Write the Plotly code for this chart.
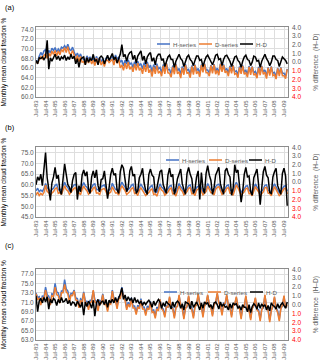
import plotly.graph_objects as go
import pandas as pd

# ---------------- data (bi-monthly readings, Jul-83 .. Nov-09) ----------------
TICK_LABELS = ["Jul-83", "Jul-84", "Jul-85", "Jul-86", "Jul-87", "Jul-88", "Jul-89",
               "Jul-90", "Jul-91", "Jul-92", "Jul-93", "Jul-94", "Jul-95", "Jul-96",
               "Jul-97", "Jul-98", "Jul-99", "Jul-00", "Jul-01", "Jul-02", "Jul-03",
               "Jul-04", "Jul-05", "Jul-06", "Jul-07", "Jul-08", "Jul-09"]
SERIES_NAMES = ["H-series", "D-series", "H-D"]
PANEL_LABELS = ["(a)", "(b)", "(c)"]

H_A = [67.6, 67.2, 68.4, 69.2, 68.6, 69.5, 69.8, 68.9, 69.6, 69.1, 70.1, 69.6,
       70.2, 69.3, 69.9, 69.4, 70.3, 70.1, 70.6, 70.0, 70.9, 69.8, 69.6, 70.3,
       69.3, 68.4, 69.1, 68.2, 68.9, 68.0, 67.8, 67.4, 68.5, 67.8, 68.3, 67.5,
       68.1, 67.2, 68.4, 67.5, 68.1, 67.3, 67.9, 67.0, 68.0, 68.3, 67.5, 68.1,
       68.5, 67.4, 68.7, 67.8, 68.3, 67.2, 67.6, 66.4, 67.6, 66.8, 67.7, 66.7,
       67.1, 66.1, 67.3, 66.4, 67.4, 66.5, 66.9, 65.8, 67.1, 66.2, 67.3, 66.0,
       66.6, 65.2, 66.7, 65.7, 66.9, 65.8, 66.1, 65.0, 66.7, 65.5, 67.0, 65.6,
       65.7, 64.8, 66.5, 65.4, 66.9, 65.4, 65.9, 64.6, 66.3, 65.3, 66.8, 65.5,
       65.7, 64.7, 66.5, 65.2, 66.7, 65.4, 65.9, 64.8, 66.7, 65.7, 66.9, 65.6,
       65.6, 64.9, 66.6, 65.5, 66.8, 65.3, 66.0, 65.0, 66.9, 65.7, 66.7, 65.5,
       65.9, 64.9, 66.4, 65.4, 66.6, 65.2, 65.4, 64.6, 66.3, 65.3, 66.5, 65.2,
       65.5, 64.7, 66.4, 65.1, 66.3, 65.0, 65.3, 64.4, 66.2, 65.0, 66.4, 65.2,
       65.6, 64.3, 66.1, 64.9, 66.3, 64.9, 65.1, 64.2, 66.0, 64.8, 66.1, 64.9,
       64.9, 64.3, 65.8]
D_A = [67.4, 66.9, 67.8, 68.3, 67.9, 68.6, 68.9, 68.0, 69.0, 68.4, 69.5, 68.8,
       69.6, 68.5, 69.5, 68.7, 69.8, 69.4, 70.2, 69.2, 70.4, 69.0, 68.8, 69.6,
       68.7, 67.5, 68.6, 67.3, 68.4, 67.2, 67.3, 66.7, 68.1, 67.0, 68.0, 66.8,
       67.6, 66.5, 68.0, 66.8, 67.8, 66.6, 67.4, 66.3, 67.6, 67.6, 67.1, 67.5,
       67.8, 66.6, 68.2, 67.0, 67.8, 66.0, 66.6, 65.5, 67.0, 65.8, 67.2, 65.7,
       66.3, 65.2, 66.8, 65.5, 67.0, 65.5, 66.0, 64.8, 66.6, 65.2, 66.9, 65.0,
       65.7, 64.2, 66.2, 64.8, 66.5, 64.9, 65.3, 64.3, 66.4, 64.8, 66.9, 65.0,
       64.9, 64.1, 66.2, 64.7, 66.7, 64.8, 65.2, 63.9, 66.0, 64.6, 66.6, 64.9,
       65.0, 64.0, 66.3, 64.6, 66.6, 64.8, 65.3, 64.2, 66.6, 65.1, 66.8, 65.0,
       65.0, 64.3, 66.5, 64.9, 66.7, 64.7, 65.5, 64.5, 66.8, 65.2, 66.6, 65.0,
       65.4, 64.3, 66.2, 64.9, 66.5, 64.7, 64.9, 64.0, 66.1, 64.8, 66.4, 64.7,
       65.0, 64.1, 66.2, 64.6, 66.2, 64.5, 64.8, 63.9, 66.0, 64.5, 66.3, 64.7,
       65.1, 63.8, 66.0, 64.4, 66.2, 64.4, 64.6, 63.7, 65.9, 64.3, 66.0, 64.4,
       64.4, 63.8, 65.7]
HD_A = [0.2, -0.2, 0.5, 0.4, 0.6, 0.3, 0.6, 2.5, -0.8, 0.5, 0.1, 0.6,
        0.9, 0.3, 0.7, 0.2, 0.6, 0.4, 0.8, 0.2, 0.6, 0.3, 0.9, 0.4,
        0.7, -0.2, 0.4, -0.6, 0.3, 0.5, 0.6, -0.3, 0.5, 0.0, 0.4, 0.2,
        0.9, 0.1, 0.3, -0.3, 0.5, 0.7, 0.5, -0.2, 0.4, 0.8, 0.2, 0.7,
        1.0, 0.3, 0.6, -0.1, 0.5, 0.9, 2.0, 0.6, 0.9, 0.1, 0.8, 1.1,
        1.2, 0.3, 0.8, -0.1, 0.7, 1.0, 1.3, 0.2, 0.7, -0.2, 0.6, 0.9,
        1.1, 0.1, 0.5, -0.3, 0.6, 0.9, 0.9, 0.2, 0.4, -0.5, 0.2, 0.6,
        0.8, 0.3, 0.3, -0.6, 0.1, 0.5, 0.9, 0.4, 0.2, -0.5, 0.0, 0.6,
        0.8, 0.3, 0.1, -0.4, 0.2, 0.7, 0.7, 0.2, 0.3, -0.5, 0.1, 0.6,
        0.8, 0.4, 0.2, -0.3, 0.2, 0.8, 0.9, 0.3, 0.4, -0.4, 0.3, 0.7,
        0.8, 0.5, 0.1, -0.5, 0.2, 0.6, 0.7, 0.2, 0.0, -0.6, 0.1, 0.6,
        0.8, 0.3, 0.2, -0.4, 0.0, 0.7, 0.6, 0.1, 0.2, -0.6, 0.1, 0.5,
        0.9, 0.4, 0.1, -0.4, 0.0, 0.7, 0.7, 0.3, 0.2, -0.5, 0.1, 0.6,
        0.4, 0.2, -0.2]

H_B = [57.2, 58.4, 56.8, 57.6, 56.9, 58.2, 60.6, 58.6, 57.9, 56.7, 57.8, 58.4,
       59.8, 60.2, 57.6, 58.0, 57.1, 59.4, 61.2, 59.4, 58.8, 57.2, 58.3, 59.0,
       60.0, 60.2, 57.5, 57.9, 57.0, 59.5, 61.0, 59.6, 58.9, 57.2, 58.0, 58.7,
       60.1, 60.5, 57.7, 57.9, 56.9, 59.3, 59.6, 59.9, 58.4, 56.8, 57.6, 58.2,
       60.7, 59.5, 57.8, 57.9, 56.8, 59.4, 61.2, 60.0, 58.9, 57.1, 57.8, 58.5,
       59.8, 60.3, 57.5, 57.7, 56.6, 59.1, 60.2, 59.1, 58.3, 56.6, 57.3, 58.0,
       59.2, 59.7, 57.1, 57.4, 56.3, 58.7, 60.4, 59.0, 58.3, 56.6, 57.3, 58.0,
       59.4, 59.7, 57.2, 57.3, 56.2, 58.8, 60.6, 59.1, 58.3, 56.6, 57.3, 58.1,
       59.6, 59.9, 57.1, 57.3, 56.3, 58.9, 59.2, 60.2, 58.3, 56.6, 57.4, 58.2,
       60.6, 59.2, 57.6, 57.6, 56.5, 59.2, 60.0, 60.3, 58.6, 56.8, 57.5, 58.2,
       59.6, 59.9, 57.4, 57.5, 56.4, 59.6, 61.2, 59.8, 58.4, 56.6, 57.3, 58.0,
       59.4, 59.6, 57.2, 57.3, 56.2, 58.6, 60.4, 59.0, 58.1, 56.3, 57.0, 58.0,
       59.8, 60.0, 57.4, 57.2, 56.2, 59.0, 60.4, 59.0, 58.0, 56.3, 56.9, 58.0,
       59.4, 59.6, 57.0]
D_B = [55.2, 56.6, 55.0, 56.0, 55.3, 56.4, 59.8, 56.9, 56.3, 55.1, 56.2, 56.8,
       58.2, 58.6, 56.0, 56.4, 55.5, 57.8, 59.6, 57.8, 57.2, 55.6, 56.7, 57.4,
       58.4, 58.6, 55.9, 56.3, 55.4, 57.9, 59.4, 58.0, 57.3, 55.6, 56.4, 57.1,
       58.5, 58.9, 56.1, 56.3, 55.3, 57.7, 58.0, 58.3, 56.8, 55.2, 56.0, 56.6,
       59.1, 57.9, 56.2, 56.3, 55.2, 57.8, 59.6, 58.4, 57.3, 55.5, 56.2, 56.9,
       58.2, 58.7, 55.9, 56.1, 55.0, 57.5, 58.6, 57.5, 56.7, 55.0, 55.7, 56.4,
       57.6, 58.1, 55.5, 55.8, 54.7, 57.1, 59.0, 57.6, 56.9, 55.2, 55.9, 56.6,
       58.0, 58.5, 55.8, 55.9, 54.8, 57.4, 59.4, 57.8, 57.0, 55.3, 56.0, 56.8,
       58.4, 58.7, 55.8, 56.0, 55.0, 57.6, 58.0, 59.0, 57.0, 55.3, 56.1, 56.9,
       59.4, 58.0, 56.3, 56.3, 55.2, 57.9, 58.8, 59.1, 57.3, 55.5, 56.2, 56.9,
       58.4, 58.7, 56.1, 56.2, 55.1, 58.3, 60.0, 58.6, 57.1, 55.3, 56.0, 56.7,
       58.2, 58.4, 55.9, 56.0, 54.9, 57.3, 59.2, 57.8, 56.8, 55.0, 55.7, 56.7,
       58.6, 58.8, 56.1, 55.9, 54.9, 57.7, 59.2, 57.8, 56.7, 55.0, 55.6, 56.7,
       58.2, 58.4, 55.7]
HD_B = [-0.3, 0.6, 0.2, 0.9, -0.4, 1.4, 3.4, 0.5, -1.2, -2.1, -0.1, 0.6,
        1.7, 0.4, 0.8, -1.0, -1.4, 0.5, 2.1, 0.9, -0.3, -0.6, -1.2, 0.2,
        0.9, 1.1, -2.0, -0.4, -1.1, 0.8, 1.4, 0.7, 1.2, -0.8, -1.3, 0.6,
        1.3, 0.5, 1.4, -0.4, -1.1, 0.3, 0.4, 1.3, -0.2, -1.9, -0.6, 0.9,
        1.6, 0.8, 1.0, -0.9, -1.3, 1.2, 2.0, 1.6, 0.3, -1.1, -0.6, 1.3,
        1.8, 0.7, 0.9, -1.3, -1.0, 0.5, 0.9, 1.6, -0.1, -1.0, -1.4, 0.9,
        1.5, 0.8, 0.6, -1.2, -0.7, 0.3, 1.2, 1.4, -0.3, -0.8, -1.3, 0.8,
        1.6, 0.6, 0.9, -1.4, -0.7, 0.4, 1.1, 1.5, -0.2, -0.9, -1.4, 1.0,
        1.7, 0.9, 0.4, -1.3, -0.8, 0.6, 1.3, -2.0, 1.1, -0.7, -1.3, 1.0,
        1.9, 0.8, 0.2, -1.4, -0.6, 0.8, 1.2, 1.7, -0.2, -0.8, -1.4, 1.3,
        1.6, 0.9, 0.6, -1.5, -0.7, 2.0, 1.1, 1.4, -0.5, -2.3, -1.1, 0.9,
        1.7, 0.6, 0.7, -1.1, -1.5, 0.5, 1.0, 1.5, -0.3, -2.6, -0.7, 1.2,
        1.8, 0.8, 0.5, -1.2, -1.3, 0.6, 1.2, 1.6, -0.4, -0.9, -1.4, 1.0,
        1.6, 0.7, -2.7]

H_C = [73.0, 72.0, 72.2, 70.8, 72.4, 72.0, 74.2, 72.6, 72.3, 71.0, 72.8, 72.6,
       75.0, 73.2, 73.0, 71.4, 73.4, 73.4, 75.8, 73.8, 73.4, 71.6, 72.9, 72.8,
       73.6, 71.9, 71.8, 70.2, 71.7, 71.4, 73.2, 71.2, 71.2, 69.8, 71.4, 71.5,
       73.4, 71.5, 71.2, 69.6, 71.4, 71.2, 72.8, 70.9, 71.0, 69.4, 71.2, 71.0,
       73.6, 71.8, 71.6, 70.0, 72.2, 72.2, 74.2, 72.4, 71.8, 69.8, 71.0, 70.4,
       72.0, 70.2, 70.2, 68.8, 70.4, 70.0, 71.8, 70.0, 70.0, 68.6, 70.2, 69.8,
       71.2, 69.2, 69.4, 68.0, 70.0, 69.6, 71.6, 69.8, 69.6, 68.2, 70.2, 70.0,
       72.0, 70.0, 69.8, 68.0, 70.0, 70.2, 72.4, 70.4, 70.0, 67.8, 69.8, 70.0,
       72.2, 70.2, 69.8, 68.0, 70.2, 70.4, 72.6, 70.8, 70.4, 68.2, 70.4, 70.6,
       72.4, 70.6, 70.2, 68.4, 70.6, 70.8, 72.8, 71.0, 70.6, 68.6, 70.8, 70.6,
       72.4, 70.4, 70.2, 68.2, 70.4, 70.4, 72.0, 70.2, 70.0, 67.8, 70.0, 70.0,
       72.2, 70.0, 69.6, 67.6, 69.8, 70.2, 71.8, 69.6, 69.4, 67.4, 69.6, 69.8,
       72.4, 70.2, 69.6, 67.2, 69.4, 70.0, 72.0, 69.8, 69.2, 67.4, 69.8, 70.2,
       72.2, 70.0, 70.0]
D_C = [72.8, 71.6, 71.8, 70.4, 72.0, 71.6, 73.6, 72.0, 71.7, 70.4, 72.4, 72.2,
       74.2, 72.6, 72.4, 70.8, 73.0, 73.0, 74.8, 73.2, 72.8, 71.0, 72.5, 72.4,
       73.4, 71.5, 71.4, 69.8, 71.3, 71.0, 73.0, 70.8, 70.8, 69.4, 71.0, 71.1,
       73.6, 71.1, 70.8, 69.2, 71.0, 70.8, 72.6, 70.5, 70.6, 69.0, 70.8, 70.6,
       73.4, 71.4, 71.2, 69.6, 71.8, 71.8, 73.8, 72.0, 71.4, 69.4, 70.6, 70.0,
       71.6, 69.8, 69.8, 68.4, 70.0, 69.6, 71.4, 69.6, 69.6, 68.2, 69.8, 69.4,
       71.0, 68.8, 69.0, 67.6, 69.6, 69.2, 71.6, 69.6, 69.2, 67.8, 70.0, 70.0,
       72.2, 69.8, 69.6, 67.6, 69.8, 70.2, 72.6, 70.2, 69.6, 67.4, 69.6, 70.2,
       72.4, 70.0, 69.4, 67.6, 70.0, 70.6, 72.8, 70.6, 70.0, 67.8, 70.2, 70.8,
       72.6, 70.4, 69.8, 68.0, 70.4, 71.0, 73.0, 70.8, 70.2, 68.2, 70.6, 70.8,
       72.6, 70.2, 69.8, 67.8, 70.2, 70.6, 72.2, 70.0, 69.6, 67.4, 69.8, 70.2,
       72.4, 69.8, 69.2, 67.2, 69.6, 70.4, 72.0, 69.4, 69.0, 67.0, 69.4, 70.0,
       72.6, 70.0, 69.2, 66.8, 69.2, 70.2, 72.2, 69.6, 68.8, 67.0, 69.6, 70.4,
       72.4, 69.8, 70.4]
HD_C = [1.0, -0.8, 0.4, 0.7, 0.2, 0.8, 0.3, 0.9, -0.5, 0.6, 0.2, 0.7,
        0.5, -0.1, 0.6, 0.2, 0.8, 0.3, 0.4, 0.7, 0.1, 0.5, -0.1, 0.3,
        0.2, -0.2, 0.4, 0.0, -0.3, 0.3, -1.2, 0.3, -0.2, 0.4, 0.1, -0.4,
        0.5, -1.3, 0.2, 0.6, -0.1, 0.3, 0.4, 0.0, 0.6, -0.3, 0.5, 0.2,
        0.6, 0.2, 0.8, 0.3, 0.7, 1.2, 1.9, 0.6, 1.1, 0.4, 0.9, 0.5,
        0.7, 0.2, 0.8, 0.3, 0.5, 0.1, 0.4, -0.1, 0.3, 0.0, 0.3, 0.5,
        0.2, -0.3, 0.4, -0.1, 0.3, 0.6, 0.3, -0.4, 0.2, -0.2, 0.4, 0.1,
        0.0, -0.5, 0.3, -0.3, 0.2, 0.4, 0.2, -0.4, 0.1, -0.6, 0.3, 0.2,
        0.1, -0.5, 0.4, -0.3, 0.0, 0.3, -0.1, -0.6, 0.2, -0.4, 0.3, 0.1,
        0.2, -0.3, 0.0, -0.5, 0.2, 0.3, 0.0, -0.5, 0.3, -0.2, 0.1, -0.3,
        -0.2, -0.6, 0.1, -0.4, 0.2, 0.0, 0.1, -0.4, -0.2, -0.6, 0.0, -0.3,
        -0.3, -0.8, 0.0, -0.9, -0.2, 0.1, -0.1, -0.5, 0.2, -0.4, 0.1, -0.2,
        0.0, -0.6, -0.1, -0.7, 0.2, -0.1, -0.2, -0.5, 0.1, -0.4, 0.0, 0.2,
        -0.1, -0.4, 0.3]

Y_TICKS_A = [60, 62, 64, 66, 68, 70, 72, 74]
Y_TICKS_B = [45, 50, 55, 60, 65, 70, 75]
Y_TICKS_C = [63, 65, 67, 69, 71, 73, 75, 77]
DIFF_TICKS = [4, 3, 2, 1, 0, -1, -2, -3, -4]

# ---------------- styling / layout ----------------
W, HGT = 320, 362
FONT = "Liberation Sans, Arial, sans-serif"
GREY = "#595959"
COLORS = ["#4472C4", "#ED7D31", "#000000"]


def fx(p):
    return p / W


def fy(p):
    return 1 - p / HGT


def dates(n):
    return pd.date_range("1983-07-01", periods=n, freq="2MS")


tick_dates = pd.date_range("1983-07-01", periods=len(TICK_LABELS), freq="12MS")

panels = [
    dict(h=H_A, d=D_A, hd=HD_A, yr=[60, 74.4], yt=Y_TICKS_A, top=27.3, bot=97.0,
         leg_y=44, leg_x=[157, 199, 240], lab_y=7),
    dict(h=H_B, d=D_B, hd=HD_B, yr=[45, 77.5], yt=Y_TICKS_B, top=147.3, bot=217.0,
         leg_y=160, leg_x=[166, 209, 249], lab_y=127),
    dict(h=H_C, d=D_C, hd=HD_C, yr=[63, 78], yt=Y_TICKS_C, top=269.3, bot=340.0,
         leg_y=292, leg_x=[164, 208, 250], lab_y=245),
]

diff_text = []
for v in DIFF_TICKS:
    if v < 0:
        diff_text.append('<span style="color:#FF0000">%.1f</span>' % abs(v))
    else:
        diff_text.append("%.1f" % v)

fig = go.Figure()
layout = dict(
    width=W, height=HGT, margin=dict(l=0, r=0, t=0, b=0),
    paper_bgcolor="white", plot_bgcolor="white", showlegend=False,
    font=dict(family=FONT, size=6.5, color=GREY),
)
annotations = []
shapes = []

for i, p in enumerate(panels):
    n = i + 1
    xa = "x" if n == 1 else "x%d" % n
    ya = "y%d" % (2 * n - 1) if n > 1 else "y"
    yb = "y%d" % (2 * n)
    xkey = "xaxis" if n == 1 else "xaxis%d" % n
    yakey = "yaxis" if n == 1 else "yaxis%d" % (2 * n - 1)
    ybkey = "yaxis%d" % (2 * n)

    for vals, name, col in [(p["h"], SERIES_NAMES[0], COLORS[0]),
                            (p["d"], SERIES_NAMES[1], COLORS[1])]:
        fig.add_trace(go.Scatter(x=dates(len(vals)), y=vals, mode="lines", name=name,
                                 line=dict(color=col, width=1.5),
                                 xaxis=xa, yaxis=ya))
    fig.add_trace(go.Scatter(x=dates(len(p["hd"])), y=p["hd"], mode="lines",
                             name=SERIES_NAMES[2],
                             line=dict(color=COLORS[2], width=1.5),
                             xaxis=xa, yaxis=yb))

    dom_y = [fy(p["bot"]), fy(p["top"])]
    layout[xkey] = dict(
        domain=[fx(36), fx(288)], anchor=ya, type="date",
        range=["1983-07-01", "2009-12-01"],
        tickmode="array", tickvals=list(tick_dates), ticktext=TICK_LABELS,
        tickangle=-90, tickfont=dict(size=6, color=GREY),
        showgrid=True, gridcolor="#DEDEDE", gridwidth=1,
        showline=True, linecolor="#8C8C8C", linewidth=1, mirror=True,
        ticks="", zeroline=False, automargin=False,
    )
    layout[yakey] = dict(
        domain=dom_y, anchor=xa, range=p["yr"],
        tickmode="array", tickvals=p["yt"], ticktext=["%.1f" % v for v in p["yt"]],
        tickfont=dict(size=6.5, color=GREY),
        showgrid=True, gridcolor="#DEDEDE", gridwidth=1,
        showline=True, linecolor="#8C8C8C", linewidth=1, mirror=True,
        ticks="", zeroline=False, automargin=False,
        title=dict(text="Monthly mean cloud fraction %",
                   font=dict(size=6.5, color="#000000")),
    )
    layout[ybkey] = dict(
        anchor=xa, overlaying=ya, side="right", range=[-4, 4],
        tickmode="array", tickvals=DIFF_TICKS, ticktext=diff_text,
        tickfont=dict(size=6.5, color=GREY), ticklabelstandoff=3,
        showgrid=False, showline=False, ticks="", zeroline=False, automargin=False,
        title=dict(text="% difference  (H\u2013D)", font=dict(size=6.5, color=GREY)),
    )

    # panel label
    annotations.append(dict(text=PANEL_LABELS[i], x=fx(3), y=fy(p["lab_y"]),
                            xref="paper", yref="paper", xanchor="left", yanchor="middle",
                            showarrow=False, font=dict(size=7.5, color="#000000")))
    # legend drawn in-plot
    for k in range(3):
        x0 = p["leg_x"][k]
        shapes.append(dict(type="line", xref="paper", yref="paper",
                           x0=fx(x0), x1=fx(x0 + 13), y0=fy(p["leg_y"]), y1=fy(p["leg_y"]),
                           line=dict(color=COLORS[k], width=1.5)))
        annotations.append(dict(text=SERIES_NAMES[k], x=fx(x0 + 14), y=fy(p["leg_y"]),
                                xref="paper", yref="paper", xanchor="left", yanchor="middle",
                                showarrow=False, font=dict(size=6.2, color=GREY)))

layout["annotations"] = annotations
layout["shapes"] = shapes
fig.update_layout(**layout)

fig.write_html("out.html", config={"displayModeBar": False},
               post_script="document.body.style.margin='0';")
